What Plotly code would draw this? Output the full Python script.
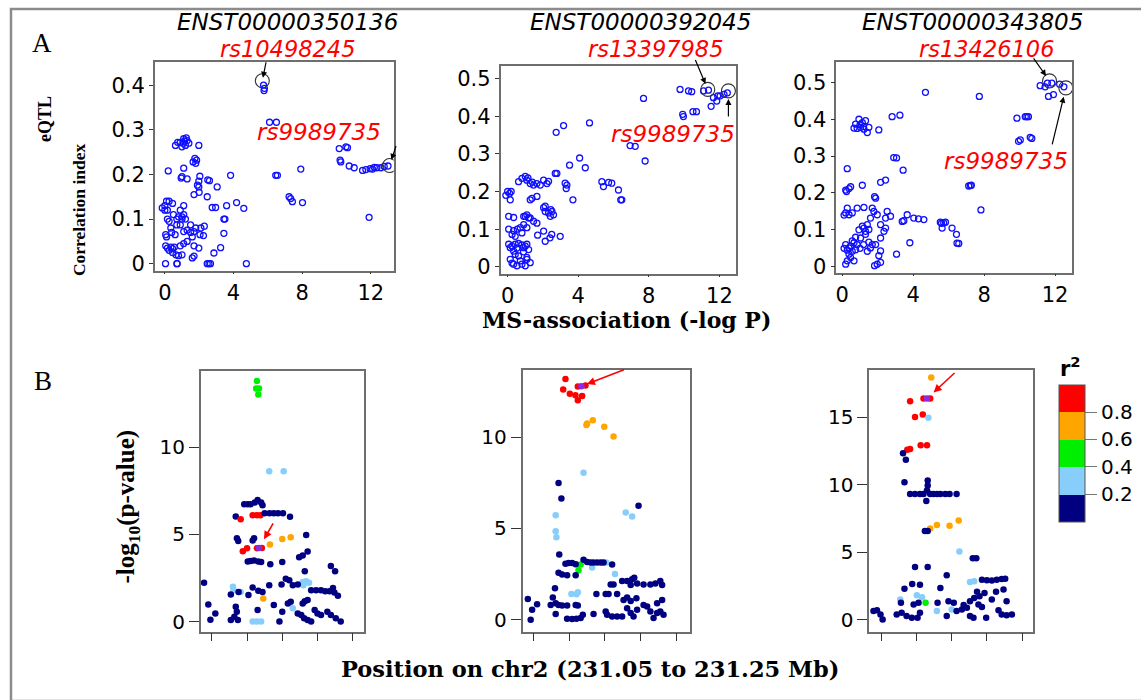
import plotly.graph_objects as go

W, H = 1141, 700

# ---------------- Panel A data (MS-association -log P vs eQTL correlation) -------------
a1_logp = [5.75, 5.80, 5.78, 6.10, 6.50,
           0.62, 0.90, 1.10, 1.30, 1.00, 1.20, 1.40, 0.75, 1.05, 1.25, 1.15, 1.98,
           1.65, 1.75, 1.80, 1.85, 0.20, 1.10, 1.00, 1.30, 0.95,
           2.04, 1.98, 2.50, 2.60, 1.90, 1.98, 3.05, 3.83, 1.70, 2.47, 2.00,
           -0.15, 0.00, 0.10, 0.25, 0.45, 0.15, 1.10, 0.90, 1.00,
           2.76, 2.96, 3.60, 4.18, 4.60, 3.44, 3.50, 3.44, 3.25, 2.86,
           4.75, 2.47, 2.57, 2.66, 0.72, 0.04,
           1.80, 1.70, 2.10, 2.30, 2.05, 2.25, 1.50, 1.30, 1.10, 1.98, 1.60, 1.70,
           0.00, 0.05, 0.10, 0.15, 0.25, 0.35, 0.05, 0.15, 0.25, 0.35, 0.45, 0.55,
           0.40, 0.60, 0.70, 0.90, 1.00, 1.10, 1.20, 0.45, 0.65, 0.80, 1.00, 0.70,
           0.90, 1.10, 1.30, 1.50, 1.60, 1.70, 0.70, 0.50, 0.80,
           6.46, 6.56, 7.24, 7.33, 7.43, 7.92, 8.02,
           10.16, 10.64, 10.55, 10.25, 10.21,
           10.74, 11.03, 11.52, 11.71, 11.96, 12.10, 12.35, 12.59, 12.78, 12.20, 11.90, 13.00]
a1_corr = [0.400, 0.393, 0.388, 0.317, 0.317,
           0.265, 0.272, 0.280, 0.276, 0.262, 0.265, 0.270, 0.272, 0.270, 0.282, 0.275, 0.265,
           0.228, 0.236, 0.225, 0.232, 0.208, 0.214, 0.195, 0.190, 0.192,
           0.196, 0.185, 0.188, 0.186, 0.176, 0.172, 0.172, 0.198, 0.155, 0.150, 0.160,
           0.125, 0.130, 0.140, 0.140, 0.135, 0.120, 0.130, 0.120, 0.105,
           0.126, 0.126, 0.130, 0.137, 0.124, 0.100, 0.100, 0.068, 0.036, 0.024,
           0.000, 0.000, 0.000, 0.000, 0.000, 0.000,
           0.080, 0.072, 0.080, 0.084, 0.065, 0.063, 0.087, 0.075, 0.072, 0.035, 0.013, 0.017,
           0.120, 0.065, 0.060, 0.100, 0.095, 0.080, 0.040, 0.035, 0.030, 0.037, 0.034, 0.037,
           0.070, 0.065, 0.087, 0.087, 0.100, 0.110, 0.100, 0.025, 0.020, 0.018, 0.020, 0.000,
           0.040, 0.045, 0.050, 0.070, 0.060, 0.040, 0.100, 0.110, 0.105,
           0.198, 0.198, 0.150, 0.146, 0.139, 0.212, 0.137,
           0.258, 0.260, 0.262, 0.228, 0.232,
           0.219, 0.215, 0.209, 0.211, 0.213, 0.212, 0.215, 0.215, 0.218, 0.216, 0.104, 0.219]
a1_snp_logp = [5.68, 13.09]
a1_snp_corr = [0.410, 0.220]

a2_logp = [9.77, 10.25, 10.43, 11.10, 11.38, 11.66, 11.90, 11.53, 11.85, 12.04, 12.26, 12.45,
           7.70, 9.92, 9.96, 10.50, 10.70, 2.75, 3.17, 4.64,
           6.94, 7.23, 7.79, 4.08, 3.51, 4.40, 2.70, 2.79,
           3.26, 3.32, 3.36, 3.70, 5.34, 5.72, 5.90, 5.43, 6.28, 6.41, 6.47,
           0.62, 0.81, 1.00, 1.09, 1.28, 1.47, 1.66, 1.85, 2.04, 2.23, 2.32, 1.15, 1.40,
           1.28, 1.38, 1.66, 2.04, 2.13, 2.32, 2.42, 2.51, 2.60, 2.13, 2.45,
           1.09, 1.28, 1.47, 1.66, 0.91, 1.70, 2.04, 2.13, 2.40, 2.50, 2.98,
           0.00, 0.11, 0.15, -0.10, 0.20, 0.06, 0.34, 0.06, 0.34, 0.55, 0.72, 0.25, 0.43, 0.81,
           0.91, 1.09, 1.00, 1.19,
           0.06, 0.15, 0.25, 0.34, 0.43, 0.62, 0.72, 0.34, 0.53, 0.81, 1.00, 1.28, 1.09, 0.90, 1.00, 1.09, 1.19,
           0.15, 0.25, 0.43, 0.53, 0.62, 0.81, 0.90, 1.09]
a2_corr = [0.471, 0.467, 0.465, 0.467, 0.469, 0.449, 0.454, 0.426, 0.440, 0.454, 0.458, 0.462,
           0.447, 0.405, 0.399, 0.412, 0.412, 0.357, 0.375, 0.382,
           0.322, 0.320, 0.281, 0.289, 0.270, 0.263, 0.248, 0.248,
           0.222, 0.208, 0.217, 0.178, 0.226, 0.224, 0.222, 0.213, 0.204, 0.178, 0.178,
           0.226, 0.235, 0.240, 0.230, 0.221, 0.217, 0.221, 0.217, 0.230, 0.221, 0.227, 0.236, 0.225,
           0.178, 0.182, 0.187, 0.157, 0.147, 0.143, 0.134, 0.147, 0.138, 0.161, 0.152,
           0.138, 0.130, 0.121, 0.116, 0.134, 0.084, 0.095, 0.068, 0.077, 0.086, 0.081,
           0.200, 0.195, 0.178, 0.190, 0.200, 0.134, 0.131, 0.100, 0.096, 0.100, 0.104, 0.086, 0.081, 0.090,
           0.112, 0.104, 0.134, 0.130,
           0.060, 0.051, 0.055, 0.042, 0.033, 0.029, 0.016, 0.007, 0.003, 0.007, 0.003, 0.011, 0.025, 0.051, 0.055, 0.060, 0.046,
           0.020, 0.010, 0.060, 0.050, 0.062, 0.058, 0.040, 0.020]
a2_snp_logp = [11.34, 12.51]
a2_snp_corr = [0.471, 0.467]

a3_logp = [11.16, 11.44, 11.57, 11.82, 11.63, 11.91, 12.26, 12.50,
           4.69, 7.73, 9.85, 10.32, 10.41, 10.50, 9.94, 10.04, 10.60, 10.69,
           7.13, 7.22, 7.28, 7.82, 5.63, 5.72, 5.53, 5.82, 5.60, 6.19, 6.44, 6.57, 6.47,
           2.81, 3.25, 2.90, 3.06, 3.43, 2.16, 2.44,
           0.75, 0.94, 1.13, 1.31, 1.03, 1.22, 1.41, 0.84, 0.66, 1.50, 2.06, 1.00, 1.20,
           0.28, 0.19, 0.24, 0.38, 0.47, 1.13, 1.82, 1.88,
           0.28, 0.56, 0.19, 0.38, 0.10, 0.84, 1.22, 1.69, 1.78, 1.97, 1.59, 2.53, 2.72, 2.44,
           3.66, 4.03, 4.30, 4.60, 3.38, 3.47, 3.81, 3.06, 2.16, 2.35, 2.44, 2.16,
           1.22, 1.41, 1.31, 1.50, 1.03, 0.84, 0.66, 0.47, 0.38, 0.56, 0.75,
           0.19, 0.28, 0.47, 0.38, 0.66, 1.41, 1.59, 1.88, 2.06, 2.16, 1.97, 2.16, 1.82,
           0.94, 1.13, 1.31, 1.50, 1.69, 0.10, 0.19, 0.28, 0.56, 0.75, 1.00, 1.20]
a3_corr = [0.491, 0.488, 0.498, 0.498, 0.462, 0.467, 0.495, 0.488,
           0.473, 0.462, 0.403, 0.407, 0.407, 0.407, 0.340, 0.344, 0.351, 0.348,
           0.219, 0.220, 0.221, 0.154, 0.105, 0.119, 0.121, 0.121, 0.118, 0.105, 0.088, 0.063, 0.064,
           0.407, 0.411, 0.296, 0.295, 0.262, 0.229, 0.235,
           0.387, 0.400, 0.391, 0.396, 0.378, 0.373, 0.364, 0.375, 0.376, 0.378, 0.371, 0.385, 0.380,
           0.266, 0.208, 0.204, 0.212, 0.217, 0.221, 0.190, 0.186,
           0.159, 0.146, 0.146, 0.141, 0.140, 0.159, 0.161, 0.159, 0.150, 0.141, 0.132, 0.150, 0.137, 0.132,
           0.141, 0.132, 0.130, 0.128, 0.123, 0.125, 0.065, 0.034, 0.114, 0.096, 0.105, 0.078,
           0.105, 0.114, 0.096, 0.101, 0.078, 0.060, 0.065, 0.056, 0.051, 0.042, 0.046,
           0.007, 0.016, 0.025, 0.034, 0.016, 0.042, 0.051, 0.060, 0.030, 0.043, 0.007, 0.012, 0.003,
           0.100, 0.110, 0.088, 0.067, 0.060, 0.050, 0.060, 0.045, 0.070, 0.080, 0.050, 0.060]
a3_snp_logp = [11.69, 12.61]
a3_snp_corr = [0.504, 0.485]

a_titles = ["ENST00000350136", "ENST00000392045", "ENST00000343805"]
a_top_snps = ["rs10498245", "rs13397985", "rs13426106"]
a_shared_snp = "rs9989735"

# ---------------- Panel B data (position on chr2 vs -log10 p, coloured by r2) -------------
b1_pos = [231.114, 231.113, 231.117, 231.116,
          231.1315, 231.152,
          231.096, 231.101, 231.105, 231.111, 231.115, 231.120, 231.122,
          231.084, 231.091, 231.108, 231.114, 231.119,
          231.125, 231.132, 231.138, 231.144, 231.151, 231.161,
          231.0856, 231.0875, 231.108, 231.110,
          231.1325, 231.150, 231.162,
          231.184,
          231.094, 231.100, 231.114, 231.121,
          231.101, 231.105, 231.110, 231.116, 231.120,
          231.133, 231.150, 231.174, 231.179, 231.186, 231.182,
          231.039, 231.045, 231.048, 231.055,
          231.080, 231.081, 231.091, 231.179, 231.184, 231.188, 231.180, 231.165, 231.108, 231.114, 231.120,
          231.123,
          231.077, 231.088, 231.102, 231.108, 231.116, 231.122, 231.1315, 231.138, 231.149, 231.155, 231.160, 231.165, 231.172,
          231.191, 231.198, 231.205, 231.211, 231.217, 231.222, 231.224, 231.219, 231.225, 231.229,
          231.084, 231.0855, 231.082, 231.087, 231.115, 231.146, 231.150, 231.158, 231.162,
          231.172, 231.177, 231.181, 231.186, 231.191, 231.179, 231.182, 231.186,
          231.196, 231.200, 231.205, 231.214, 231.219, 231.226, 231.233, 231.077]
b1_logp = [13.79, 13.35, 13.35, 13.01,
           8.62, 8.62,
           6.72, 6.72, 6.72, 6.82, 6.97, 6.82, 6.67,
           6.02, 5.87, 6.10, 6.10, 6.10,
           6.21, 6.21, 6.21, 6.21, 6.21, 6.00,
           4.77, 4.62, 4.64, 4.77,
           4.41, 4.73, 4.83,
           4.96,
           4.03, 4.20, 4.20, 4.22,
           3.45, 3.47, 3.50, 3.45, 3.41,
           3.28, 3.41, 3.69, 3.79, 4.02, 2.88,
           2.23, 0.98, 0.10, 0.47,
           1.99, 1.80, 1.70, 2.27, 2.31, 2.23, 2.08, 0.76, 0.00, 0.00, 0.00,
           1.33,
           1.55, 1.70, 1.52, 1.95, 1.76, 1.70, 2.08, 0.95, 2.12, 2.46, 2.37, 2.08, 2.12,
           1.80, 1.80, 1.80, 1.74, 1.74, 1.93, 1.67, 3.18, 2.88, 1.48,
           0.85, 0.57, 0.28, 0.09, 0.66, 0.00, 0.57, 1.04, 1.14,
           0.47, 0.38, 0.19, 0.09, 0.00, 1.04, 1.17, 1.23,
           0.66, 0.47, 0.38, 0.57, 0.38, 0.19, 0.00, 0.09]
b1_r2 = [0.5, 0.5, 0.5, 0.5,
         0.3, 0.3,
         0.1, 0.1, 0.1, 0.1, 0.1, 0.1, 0.1,
         0.1, 0.9, 0.9, 0.9, 0.9,
         0.1, 0.1, 0.1, 0.1, 0.1, 0.1,
         0.1, 0.1, 0.1, 0.1,
         0.7, 0.7, 0.7,
         0.1,
         0.9, 0.9, 0.9, 0.9,
         0.1, 0.1, 0.1, 0.1, 0.1,
         0.1, 0.1, 0.1, 0.1, 0.1, 0.1,
         0.1, 0.1, 0.1, 0.1,
         0.3, 0.3, 0.3, 0.3, 0.3, 0.3, 0.3, 0.3, 0.3, 0.3, 0.3,
         0.7,
         0.1, 0.1, 0.1, 0.1, 0.1, 0.1, 0.1, 0.1, 0.1, 0.1, 0.1, 0.1, 0.1,
         0.1, 0.1, 0.1, 0.1, 0.1, 0.1, 0.1, 0.1, 0.1, 0.1,
         0.1, 0.1, 0.1, 0.1, 0.1, 0.1, 0.1, 0.1, 0.1,
         0.1, 0.1, 0.1, 0.1, 0.1, 0.1, 0.1, 0.1,
         0.1, 0.1, 0.1, 0.1, 0.1, 0.1, 0.1, 0.1]
b1_lead = (231.117, 4.22)

b2_pos = [231.0947, 231.0915, 231.1008, 231.1087, 231.112, 231.118, 231.112, 231.1227,
          231.124, 231.125, 231.133, 231.149, 231.162,
          231.120, 231.081, 231.081, 231.082, 231.179, 231.188, 231.132, 231.152, 231.164, 231.103, 231.110, 231.112,
          231.116, 231.113,
          231.085, 231.089, 231.197, 231.086,
          231.0947, 231.099, 231.104, 231.109, 231.120, 231.125, 231.130, 231.134, 231.139, 231.144, 231.148, 231.160,
          231.085, 231.090, 231.097, 231.109,
          231.158, 231.162, 231.174, 231.181, 231.188, 231.191,
          231.186, 231.195, 231.204, 231.2136, 231.2206, 231.2275, 231.230,
          231.138, 231.151, 231.155, 231.167,
          231.176, 231.181, 231.186, 231.194,
          231.077, 231.080, 231.074, 231.081, 231.085, 231.090, 231.097, 231.109, 231.112,
          231.042, 231.048, 231.055, 231.046,
          231.081, 231.097, 231.104, 231.110, 231.116, 231.119, 231.134, 231.151, 231.153, 231.160, 231.167, 231.174,
          231.181, 231.186, 231.190, 231.195, 231.204, 231.209, 231.2136, 231.218, 231.223, 231.2275, 231.232, 231.223, 231.230]
b2_logp = [13.20, 12.62, 12.39, 12.30, 12.03, 12.26, 12.78, 12.84,
           10.67, 10.76, 10.94, 10.58, 10.04,
           8.05, 5.73, 4.85, 4.52, 5.88, 5.66, 2.86, 3.13, 2.50, 1.41, 1.39, 1.50,
           3.02, 2.71,
           7.50, 6.64, 6.24, 3.58,
           3.07, 3.11, 3.11, 3.04, 3.29, 3.16, 3.13, 3.13, 3.13, 3.13, 3.13, 3.02,
           2.57, 2.48, 2.44, 2.44,
           1.93, 1.93, 2.12, 2.12, 2.22, 2.30,
           1.90, 1.99, 1.93, 1.93, 1.99, 2.12, 1.90,
           1.41, 1.41, 1.41, 1.41,
           1.08, 1.21, 1.03, 1.18,
           1.21, 1.72, 0.81, 0.90, 0.81, 0.78, 0.78, 0.81, 0.78,
           1.14, 0.54, 0.85, 0.00,
           0.31, 0.05, 0.04, 0.05, 0.09, 0.27, 0.31, 0.45, 0.27, 0.18, 0.18, 0.18,
           0.63, 0.36, 0.18, 0.54, 0.81, 0.72, 0.45, 0.09, 0.36, 0.45, 0.27, 0.90, 1.08]
b2_r2 = [0.9, 0.9, 0.9, 0.9, 0.9, 0.9, 0.9, 0.9,
         0.7, 0.7, 0.7, 0.7, 0.7,
         0.3, 0.3, 0.3, 0.3, 0.3, 0.3, 0.3, 0.3, 0.3, 0.3, 0.3, 0.3,
         0.5, 0.5,
         0.1, 0.1, 0.1, 0.1,
         0.1, 0.1, 0.1, 0.1, 0.1, 0.1, 0.1, 0.1, 0.1, 0.1, 0.1, 0.1,
         0.1, 0.1, 0.1, 0.1,
         0.1, 0.1, 0.1, 0.1, 0.1, 0.1,
         0.1, 0.1, 0.1, 0.1, 0.1, 0.1, 0.1,
         0.1, 0.1, 0.1, 0.1,
         0.1, 0.1, 0.1, 0.1,
         0.1, 0.1, 0.1, 0.1, 0.1, 0.1, 0.1, 0.1, 0.1,
         0.1, 0.1, 0.1, 0.1,
         0.1, 0.1, 0.1, 0.1, 0.1, 0.1, 0.1, 0.1, 0.1, 0.1, 0.1, 0.1,
         0.1, 0.1, 0.1, 0.1, 0.1, 0.1, 0.1, 0.1, 0.1, 0.1, 0.1, 0.1, 0.1]
b2_lead = (231.117, 12.80)

b3_pos = [231.121, 231.1195, 231.129, 231.147, 231.160,
          231.091, 231.110, 231.1195, 231.098, 231.109, 231.087, 231.091, 231.106, 231.115,
          231.117, 231.161, 231.176, 231.182, 231.077, 231.1006, 231.108, 231.129, 231.150,
          231.113,
          231.081, 231.085, 231.083, 231.116, 231.116, 231.114, 231.115,
          231.091, 231.098, 231.105, 231.110, 231.1195, 231.124, 231.129, 231.134, 231.141, 231.147, 231.157,
          231.112, 231.116, 231.180, 231.185, 231.098, 231.116, 231.143,
          231.193, 231.200, 231.207, 231.214, 231.221, 231.226,
          231.083, 231.094, 231.105, 231.134,
          231.039, 231.044, 231.049, 231.052, 231.072, 231.079, 231.086, 231.0935, 231.1016, 231.105,
          231.078, 231.096, 231.103, 231.130, 231.1455, 231.153, 231.157, 231.1645, 231.167, 231.1716,
          231.176, 231.182, 231.186, 231.1895, 231.188, 231.193, 231.1966, 231.199, 231.207, 231.213,
          231.2236, 231.228, 231.2165, 231.221, 231.228, 231.2355, 231.176, 231.181, 231.143]
b3_logp = [17.93, 6.75, 7.00, 6.95, 7.34,
           16.17, 16.37, 16.37, 15.00, 15.19, 12.58, 12.63, 12.92, 12.92,
           14.95, 5.04, 2.79, 2.84, 1.49, 1.81, 1.66, 0.64, 0.76,
           1.25,
           12.33, 11.84, 10.18, 10.30, 9.93, 8.78, 9.57,
           9.30, 9.30, 9.30, 9.30, 9.30, 9.30, 9.30, 9.30, 9.30, 9.30, 9.30,
           6.56, 6.56, 4.55, 4.55, 3.89, 3.89, 3.28,
           2.96, 2.91, 2.89, 2.96, 3.01, 3.03,
           2.28, 2.64, 2.59, 2.35,
           0.64, 0.69, 0.39, 0.02, 0.39, 0.51, 0.27, 0.15, 0.15, 0.51,
           1.25, 1.13, 1.25, 1.25, 1.37, 1.25, 0.64, 0.76, 1.08, 0.88,
           1.37, 1.61, 2.06, 1.74, 1.13, 0.93, 1.98, 0.15, 1.49, 2.06,
           2.23, 1.37, 0.69, 0.39, 0.32, 0.39, 0.27, 0.15, 0.27]
b3_r2 = [0.7, 0.7, 0.7, 0.7, 0.7,
         0.9, 0.9, 0.9, 0.9, 0.9, 0.9, 0.9, 0.9, 0.9,
         0.3, 0.3, 0.3, 0.3, 0.3, 0.3, 0.3, 0.3, 0.3,
         0.5,
         0.1, 0.1, 0.1, 0.1, 0.1, 0.1, 0.1,
         0.1, 0.1, 0.1, 0.1, 0.1, 0.1, 0.1, 0.1, 0.1, 0.1, 0.1,
         0.1, 0.1, 0.1, 0.1, 0.1, 0.1, 0.1,
         0.1, 0.1, 0.1, 0.1, 0.1, 0.1,
         0.1, 0.1, 0.1, 0.1,
         0.1, 0.1, 0.1, 0.1, 0.1, 0.1, 0.1, 0.1, 0.1, 0.1,
         0.1, 0.1, 0.1, 0.1, 0.1, 0.1, 0.1, 0.1, 0.1, 0.1,
         0.1, 0.1, 0.1, 0.1, 0.1, 0.1, 0.1, 0.1, 0.1, 0.1,
         0.1, 0.1, 0.1, 0.1, 0.1, 0.1, 0.1, 0.1, 0.1]
b3_lead = (231.115, 16.37)

r2_ticks = [0.2, 0.4, 0.6, 0.8]
pos_ticks = [231.05, 231.10, 231.15, 231.20, 231.25]

# ---------------- styling ----------------
SANS = "DejaVu Sans"
SERIF = "Liberation Serif"
SERIF_WIDE = "DejaVu Serif"
R2_COLORS = ["#000080", "#87CEFA", "#00EE00", "#FFA500", "#FF0000"]
LEAD_COLOR = "#8A2BE2"


def dx(l, r):
    return [l / W, r / W]


def dy(t, b):
    return [1 - b / H, 1 - t / H]


fig = go.Figure()

top = [
    (a1_logp, a1_corr, a1_snp_logp, a1_snp_corr, "x", "y"),
    (a2_logp, a2_corr, a2_snp_logp, a2_snp_corr, "x2", "y2"),
    (a3_logp, a3_corr, a3_snp_logp, a3_snp_corr, "x3", "y3"),
]
for xs, ys, hx, hy, xa, ya in top:
    fig.add_trace(go.Scatter(
        x=xs, y=ys, mode="markers", xaxis=xa, yaxis=ya, showlegend=False,
        marker=dict(symbol="circle-open", size=6, color="#1010FF", line=dict(width=1.3))))
    fig.add_trace(go.Scatter(
        x=hx, y=hy, mode="markers", xaxis=xa, yaxis=ya, showlegend=False,
        marker=dict(symbol="circle-open", size=14, color="#333333", line=dict(width=1.1))))

bottom = [
    (b1_pos, b1_logp, b1_r2, b1_lead, "x4", "y4"),
    (b2_pos, b2_logp, b2_r2, b2_lead, "x5", "y5"),
    (b3_pos, b3_logp, b3_r2, b3_lead, "x6", "y6"),
]
for xs, ys, cs, lead, xa, ya in bottom:
    fig.add_trace(go.Scatter(
        x=xs, y=ys, mode="markers", xaxis=xa, yaxis=ya, showlegend=False,
        marker=dict(size=6.5, color=cs, coloraxis="coloraxis", line=dict(width=0))))
    fig.add_trace(go.Scatter(
        x=[lead[0]], y=[lead[1]], mode="markers", xaxis=xa, yaxis=ya, showlegend=False,
        marker=dict(size=6.5, color=LEAD_COLOR)))

frame = dict(showline=True, mirror=True, linecolor="#6e6e6e", linewidth=1.5,
             showgrid=False, zeroline=False, ticks="outside", tickcolor="#333",
             tickwidth=1)
tfa = dict(family=SANS, size=21, color="black")
tfb = dict(family=SANS, size=20, color="black")

scale = [[0.0, R2_COLORS[0]], [0.2, R2_COLORS[0]],
         [0.2, R2_COLORS[1]], [0.4, R2_COLORS[1]],
         [0.4, R2_COLORS[2]], [0.6, R2_COLORS[2]],
         [0.6, R2_COLORS[3]], [0.8, R2_COLORS[3]],
         [0.8, R2_COLORS[4]], [1.0, R2_COLORS[4]]]

fig.update_layout(
    width=W, height=H, margin=dict(l=0, r=0, t=0, b=0),
    paper_bgcolor="white", plot_bgcolor="white",
    xaxis=dict(domain=dx(154, 393), range=[-0.58, 13.33], tickvals=[0, 4, 8, 12], ticklen=2,
               tickfont=tfa, anchor="y", **frame),
    yaxis=dict(domain=dy(63, 273), range=[-0.0156, 0.451], tickvals=[0, 0.1, 0.2, 0.3, 0.4],
               ticklen=4, tickfont=tfa, anchor="x", **frame),
    xaxis2=dict(domain=dx(500, 736), range=[-0.4, 12.96], tickvals=[0, 4, 8, 12], ticklen=2,
                tickfont=tfa, anchor="y2", **frame),
    yaxis2=dict(domain=dy(67, 276), range=[-0.018, 0.532], tickvals=[0, 0.1, 0.2, 0.3, 0.4, 0.5],
                ticklen=4, tickfont=tfa, anchor="x2", **frame),
    xaxis3=dict(domain=dx(836, 1072), range=[-0.34, 12.96], tickvals=[0, 4, 8, 12], ticklen=2,
                tickfont=tfa, anchor="y3", **frame),
    yaxis3=dict(domain=dy(63, 275), range=[-0.016, 0.554], tickvals=[0, 0.1, 0.2, 0.3, 0.4, 0.5],
                ticklen=4, tickfont=tfa, anchor="x3", **frame),
    xaxis4=dict(domain=dx(200, 363), range=[231.0344, 231.2656], tickvals=pos_ticks, ticklen=8,
                showticklabels=False, anchor="y4", **frame),
    yaxis4=dict(domain=dy(374, 637), range=[-0.57, 14.37], tickvals=[0, 5, 10], ticklen=10,
                tickfont=tfb, anchor="x4", **frame),
    xaxis5=dict(domain=dx(522, 690), range=[231.0346, 231.2696], tickvals=pos_ticks, ticklen=8,
                showticklabels=False, anchor="y5", **frame),
    yaxis5=dict(domain=dy(373, 637), range=[-0.65, 13.7], tickvals=[0, 5, 10], ticklen=10,
                tickfont=tfb, anchor="x5", **frame),
    xaxis6=dict(domain=dx(869, 1033), range=[231.033, 231.2656], tickvals=pos_ticks, ticklen=8,
                showticklabels=False, anchor="y6", **frame),
    yaxis6=dict(domain=dy(373, 637), range=[-0.88, 18.5], tickvals=[0, 5, 10, 15], ticklen=10,
                tickfont=tfb, anchor="x6", **frame),
    coloraxis=dict(
        cmin=0, cmax=1, colorscale=scale,
        colorbar=dict(
            x=1059 / W, xanchor="left", xpad=0, y=1 - 388 / H, yanchor="top", ypad=0,
            len=137, lenmode="pixels", thickness=26, thicknessmode="pixels",
            tickvals=r2_ticks, ticks="outside", ticklen=12, tickcolor="#777",
            tickfont=dict(family=SANS, size=20, color="black"),
            outlinecolor="#555", outlinewidth=1)),
)

ann = []


def txt(text, x, y, size, family, color="black", angle=0):
    ann.append(dict(text=text, x=x / W, y=1 - y / H, xref="paper", yref="paper",
                    showarrow=False, xanchor="center", yanchor="middle",
                    textangle=angle, font=dict(family=family, size=size, color=color)))


# panel letters, axis titles, colour key title
txt("A", 41, 43, 27, SERIF)
txt("B", 42, 384, 27, SERIF)
txt("<b>eQTL</b>", 44, 120, 18, SERIF, angle=-90)
txt("<b>Correlation index</b>", 78, 211, 17.5, SERIF, angle=-90)
txt("<b>MS-association (-log P)</b>", 626, 323, 22, SERIF_WIDE)
txt("<b>-log<sub>10</sub>(p-value)</b>", 127, 511, 25, SERIF, angle=-90)
txt("<b>Position on chr2 (231.05 to 231.25 Mb)</b>", 590, 675, 22.5, SERIF_WIDE)
txt("<b>r<sup>2</sup></b>", 1070, 370, 21, SANS)

# transcript titles and SNP labels
for t, cx in zip(a_titles, [287, 640, 972]):
    txt("<i>" + t + "</i>", cx, 22.5, 23, SANS)
for s, cx in zip(a_top_snps, [287, 656, 987]):
    txt("<i>" + s + "</i>", cx, 49.5, 22.5, SANS, color="#FF0000")
for cx, cy in [(318, 133), (673, 135), (1006, 162)]:
    txt("<i>" + a_shared_snp + "</i>", cx, cy, 23, SANS, color="#FF0000")

# black arrows pointing at highlighted SNPs (tail offsets in px)
arrows_top = [
    ("x", "y", a1_snp_logp[0], a1_snp_corr[0], 4, -20, 3),
    ("x", "y", a1_snp_logp[1], a1_snp_corr[1], 7, -21, 6),
    ("x2", "y2", a2_snp_logp[0], a2_snp_corr[0], -13, -31, 6),
    ("x2", "y2", a2_snp_logp[1], a2_snp_corr[1], 0, 27, 8),
    ("x3", "y3", a3_snp_logp[0], a3_snp_corr[0], -17, -24, 6),
    ("x3", "y3", a3_snp_logp[1], a3_snp_corr[1], -14, 58, 9),
]
for xa, ya, x, y, ax, ay, so in arrows_top:
    ann.append(dict(x=x, y=y, xref=xa, yref=ya, ax=ax, ay=ay, axref="pixel", ayref="pixel",
                    showarrow=True, arrowhead=2, arrowsize=1, arrowwidth=1.2,
                    arrowcolor="black", standoff=so, text=""))

# red arrows pointing at lead SNPs
for xa, ya, lead, ax, ay, so in [("x4", "y4", b1_lead, 15, -26, 10),
                                 ("x5", "y5", b2_lead, 44, -17, 6),
                                 ("x6", "y6", b3_lead, 29, -27, 9)]:
    ann.append(dict(x=lead[0], y=lead[1], xref=xa, yref=ya, ax=ax, ay=ay,
                    showarrow=True, arrowhead=2, arrowsize=1, arrowwidth=1.6,
                    arrowcolor="#FF0000", standoff=so, text=""))

fig.update_layout(annotations=ann)

# outer frame
fig.add_shape(type="rect", xref="paper", yref="paper",
              x0=10 / W, x1=1.01, y0=-0.01, y1=1 - 9 / H,
              line=dict(color="#8c8c8c", width=2.5), fillcolor="rgba(0,0,0,0)")

fig.write_html("out.html")
